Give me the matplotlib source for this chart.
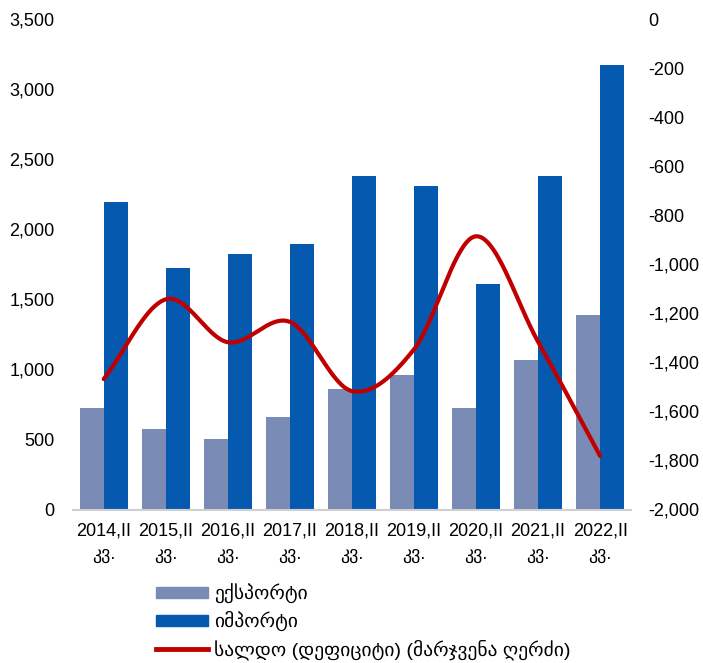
import numpy as np
import matplotlib.pyplot as plt
from matplotlib.patches import Patch
from matplotlib.lines import Line2D

plt.rcParams['font.family'] = ['Liberation Sans', 'DejaVu Sans']

# data (მლნ აშშ დოლარი)
years = ['2014', '2015', '2016', '2017', '2018', '2019', '2020', '2021', '2022']
labels = [y + ',II\nკვ.' for y in years]
exports = [725, 577, 504, 663, 862, 960, 725, 1067, 1388]
imports = [2193, 1720, 1822, 1898, 2379, 2307, 1611, 2383, 3170]
balance = [-1468, -1143, -1318, -1235, -1517, -1347, -886, -1316, -1782]

names = ['ექსპორტი', 'იმპორტი', 'სალდო (დეფიციტი) (მარჯვენა ღერძი)']
c_exp = '#7a8bb5'
c_imp = '#055ab0'
c_bal = '#c00000'


def smooth(xs, ys, n=40):
    """catmull-rom spline, looks like excel smoothed line"""
    xs = np.asarray(xs, float)
    ys = np.asarray(ys, float)
    px = np.concatenate([[2 * xs[0] - xs[1]], xs, [2 * xs[-1] - xs[-2]]])
    py = np.concatenate([[2 * ys[0] - ys[1]], ys, [2 * ys[-1] - ys[-2]]])
    ox, oy = [], []
    for i in range(1, len(px) - 2):
        t = np.linspace(0, 1, n, endpoint=False)
        for p, out in ((px, ox), (py, oy)):
            p0, p1, p2, p3 = p[i - 1], p[i], p[i + 1], p[i + 2]
            out.extend(0.5 * ((2 * p1) + (-p0 + p2) * t
                              + (2 * p0 - 5 * p1 + 4 * p2 - p3) * t ** 2
                              + (-p0 + 3 * p1 - 3 * p2 + p3) * t ** 3))
    ox.append(xs[-1])
    oy.append(ys[-1])
    return np.array(ox), np.array(oy)


fig = plt.figure(figsize=(7.03, 6.63), dpi=100)
ax = fig.add_axes([72.7 / 703, 1 - 509.5 / 663, 558.5 / 703, 490.5 / 663])

x = np.arange(len(years))
w = 0.39
ax.bar(x - w / 2, exports, w, color=c_exp, zorder=2)
ax.bar(x + w / 2, imports, w, color=c_imp, zorder=2)

ax.set_xlim(-0.5, len(years) - 0.5)
ax.set_ylim(0, 3500)
ax.set_yticks(np.arange(0, 3501, 500))
ax.set_yticklabels([f'{v:,}' for v in range(0, 3501, 500)])
ax.set_xticks(x)
ax.set_xticklabels(labels, linespacing=1.55)
ax.tick_params(length=0, labelsize=13)
ax.tick_params(axis='y', pad=13)
ax.tick_params(axis='x', pad=9)
for s in ['top', 'left', 'right']:
    ax.spines[s].set_visible(False)
ax.spines['bottom'].set_color('#d0d0d0')
ax.spines['bottom'].set_linewidth(1.5)

ax2 = ax.twinx()
sx, sy = smooth(x, balance)
ax2.plot(sx, sy, color=c_bal, lw=3, solid_capstyle='round', zorder=3)
ax2.set_ylim(-2000, 0)
ax2.set_yticks(np.arange(-2000, 1, 200))
ax2.set_yticklabels([f'{v:,}' for v in range(-2000, 1, 200)])
ax2.tick_params(length=0, labelsize=13, pad=12)
for s in ['top', 'left', 'right', 'bottom']:
    ax2.spines[s].set_visible(False)

handles = [Patch(color=c_exp), Patch(color=c_imp), Line2D([], [], color=c_bal, lw=3.5)]
fig.legend(handles, names, loc='upper left', bbox_to_anchor=(138 / 703, 1 - 566 / 663),
           frameon=False, fontsize=14, handlelength=2.7, handleheight=0.55,
           handletextpad=0.3, labelspacing=0.4)

fig.savefig('out.png', dpi=100)
